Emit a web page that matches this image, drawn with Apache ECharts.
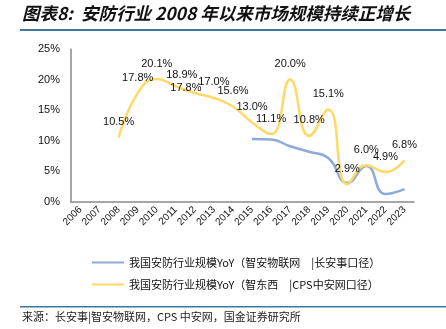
<!DOCTYPE html>
<html>
<head>
<meta charset="utf-8">
<script src="https://cdn.jsdelivr.net/npm/echarts@6/dist/echarts.min.js"></script>
<style>
html,body{margin:0;padding:0;background:#fff;}
#c{width:446px;height:329px;}
</style>
</head>
<body>
<div id="c"></div>
<script>
var years = ['2006','2007','2008','2009','2010','2011','2012','2013','2014','2015','2016','2017','2018','2019','2020','2021','2022','2023'];
var blueName = '我国安防行业规模YoY（智安物联网　|长安事口径）';
var yellowName = '我国安防行业规模YoY（智东西　|CPS中安网口径）';
var blueValues = [null,null,null,null,null,null,null,null,null,10.3,10.2,9.1,8.2,7.2,3.1,5.9,1.3,2.1];
var yellowValues = [null,null,10.5,17.8,20.1,18.9,17.8,17.0,15.6,13.0,11.1,20.0,10.8,15.1,2.9,6.0,4.9,6.8];
var yTicks = [0,5,10,15,20,25];

// label nudges (style only)
var labelOffsets = {5:[6,4],6:[-9,10]};
var yellowData = yellowValues.map(function(v,i){
  if (v === null) return null;
  var item = {value: v};
  if (labelOffsets[i]) item.label = {offset: labelOffsets[i]};
  return item;
});

var chart = echarts.init(document.getElementById('c'));
var font = 'Liberation Sans, Arial, Noto Sans CJK SC, sans-serif';
chart.setOption({
  animation: false,
  textStyle: {fontFamily: font},
  grid: {left: 71, right: 32, top: 49, bottom: 127, containLabel: false},
  xAxis: {
    type: 'category',
    data: years,
    boundaryGap: true,
    axisLine: {lineStyle: {color: '#898989', width: 1.5}},
    axisTick: {show: false},
    axisLabel: {rotate: 45, fontSize: 10, color: '#111', margin: 6, interval: 0, fontFamily: font}
  },
  yAxis: {
    type: 'value',
    min: yTicks[0], max: yTicks[yTicks.length-1], interval: 5,
    axisLine: {show: true, lineStyle: {color: '#898989', width: 1.5}},
    axisTick: {show: false},
    splitLine: {show: false},
    axisLabel: {formatter: '{value}%', fontSize: 11, color: '#111', margin: 11, fontFamily: font}
  },
  legend: {
    orient: 'vertical',
    left: 87, top: 252,
    itemWidth: 32, itemHeight: 12, itemGap: 11,
    icon: 'path://M0,5 L32,5 L32,7 L0,7 Z',
    textStyle: {fontSize: 11, color: '#111', fontFamily: 'Noto Sans CJK SC, sans-serif'},
    data: [blueName, yellowName]
  },
  series: [
    {
      name: blueName, type: 'line', data: blueValues, smooth: 0.5,
      showSymbol: false, symbol: 'none',
      lineStyle: {color: '#8eaadb', width: 2.5},
      itemStyle: {color: '#8eaadb'},
      connectNulls: false
    },
    {
      name: yellowName, type: 'line', data: yellowData, smooth: 0.5,
      showSymbol: true, symbol: 'circle', symbolSize: 0.01,
      lineStyle: {color: '#ffd966', width: 2.5},
      itemStyle: {color: '#ffd966'},
      label: {show: true, position: 'top', distance: 10, fontSize: 11, color: '#111', fontFamily: font,
        formatter: function(p){ return p.value.toFixed(1) + '%'; }},
      connectNulls: false
    }
  ],
  graphic: [
    {type: 'text', left: 22, top: 5, style: {text: '图表8:  安防行业 2008 年以来市场规模持续正增长', font: 'italic bold 17.5px "Noto Sans CJK SC", sans-serif', fill: '#111'}},
    {type: 'rect', shape: {x: 20, y: 29, width: 426, height: 2}, style: {fill: '#41779c'}},
    {type: 'rect', shape: {x: 20, y: 306, width: 426, height: 1.5}, style: {fill: '#41779c'}},
    {type: 'text', left: 22, top: 311, style: {text: '来源：长安事|智安物联网，CPS 中安网，国金证券研究所', font: '11px "Noto Sans CJK SC", sans-serif', fill: '#222'}}
  ]
});
</script>
</body>
</html>
